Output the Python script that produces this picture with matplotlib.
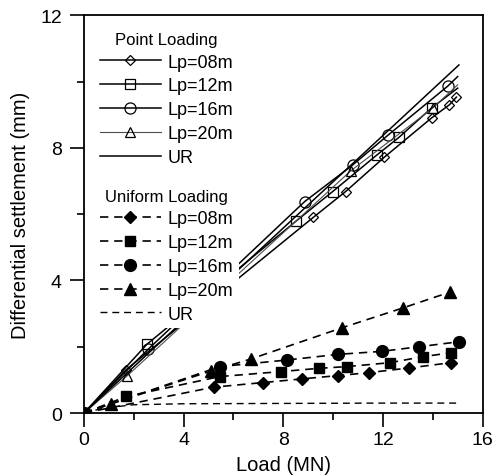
import matplotlib
matplotlib.use("Agg")
import matplotlib.pyplot as plt

plt.rcParams['font.family'] = ['Liberation Sans', 'DejaVu Sans']

# point loading (open markers, solid lines)
p08_x = [0, 1.68, 9.2, 10.5, 12.06, 13.95, 14.67, 14.95]
p08_y = [0, 1.30, 5.90, 6.68, 7.72, 8.90, 9.30, 9.53]
p12_x = [0, 2.52, 8.53, 9.98, 11.75, 12.65, 13.95, 15.0]
p12_y = [0, 2.07, 5.80, 6.68, 7.78, 8.32, 9.20, 9.80]
p16_x = [0, 2.57, 8.86, 10.78, 12.2, 14.6, 15.0]
p16_y = [0, 1.92, 6.38, 7.48, 8.38, 9.86, 10.15]
p20_x = [0, 1.73, 10.7, 14.0, 15.0]
p20_y = [0, 1.12, 7.30, 9.20, 9.90]
pur_x = [0, 15.05]
pur_y = [0, 10.5]

# uniform loading (filled markers, dashed lines)
u08_x = [0, 5.2, 7.2, 8.75, 10.2, 11.45, 13.05, 14.75]
u08_y = [0, 0.78, 0.92, 1.03, 1.13, 1.22, 1.36, 1.52]
u12_x = [0, 1.7, 5.45, 7.9, 9.45, 10.55, 12.3, 13.6, 14.75]
u12_y = [0, 0.50, 1.10, 1.25, 1.35, 1.40, 1.52, 1.70, 1.82]
u16_x = [0, 5.45, 8.15, 10.2, 11.95, 13.45, 15.05]
u16_y = [0, 1.40, 1.60, 1.77, 1.86, 2.00, 2.15]
u20_x = [0, 1.1, 5.1, 6.7, 10.35, 12.8, 14.7]
u20_y = [0, 0.28, 1.27, 1.63, 2.57, 3.17, 3.65]
uur_x = [0, 0.8, 2.0, 4.0, 8.0, 12.0, 15.0]
uur_y = [0, 0.15, 0.25, 0.28, 0.29, 0.30, 0.30]

labels = ['Lp=08m', 'Lp=12m', 'Lp=16m', 'Lp=20m', 'UR']

fig = plt.figure(figsize=(4.97, 4.77), dpi=100)
ax = fig.add_axes([0.169, 0.132, 0.802, 0.834])

lw = 1.1
solid = dict(color='black', lw=lw, mfc='none', mec='black', mew=0.9)
h1, = ax.plot(p08_x, p08_y, marker='D', ms=5, **solid)
h2, = ax.plot(p12_x, p12_y, marker='s', ms=7, markevery=list(range(len(p12_x) - 1)), **solid)
h3, = ax.plot(p16_x, p16_y, marker='o', ms=8, markevery=list(range(len(p16_x) - 1)), **solid)
h4, = ax.plot(p20_x, p20_y, marker='^', ms=7, markevery=list(range(len(p20_x) - 1)),
              color='0.3', lw=0.8, mfc='none', mec='black', mew=0.9)
h5, = ax.plot(pur_x, pur_y, color='black', lw=lw)

dash = dict(color='black', lw=1.2, ls=(0, (5, 3.5)), mfc='black', mec='black')
g1, = ax.plot(u08_x, u08_y, marker='D', ms=6.5, **dash)
g2, = ax.plot(u12_x, u12_y, marker='s', ms=7.5, **dash)
g3, = ax.plot(u16_x, u16_y, marker='o', ms=8.5, **dash)
g4, = ax.plot(u20_x, u20_y, marker='^', ms=8.5, **dash)
g5, = ax.plot(uur_x, uur_y, color='black', lw=1.0, ls=(0, (5, 3.5)))

ax.set_xlim(0, 16)
ax.set_ylim(0, 12)
ax.set_xticks([0, 4, 8, 12, 16])
ax.set_yticks([0, 4, 8, 12])
ax.set_xticks([2, 6, 10, 14], minor=True)
ax.set_yticks([2, 6, 10], minor=True)
ax.tick_params(which='major', direction='out', length=10, width=1.2, labelsize=14, pad=3)
ax.tick_params(which='minor', direction='out', length=5, width=1.2)
ax.tick_params(axis='y', which='major', pad=6)
for s in ax.spines.values():
    s.set_linewidth(1.3)

ax.set_xlabel('Load (MN)', fontsize=14.5, labelpad=5)
ax.set_ylabel('Differential settlement (mm)', fontsize=14.5, labelpad=7)

# two stacked legends with opaque white boxes that hide the lines behind them
leg_kw = dict(loc='upper left', frameon=True, facecolor='white', edgecolor='none',
              framealpha=1, fancybox=False, fontsize=13, title_fontsize=12,
              handlelength=3.4, handletextpad=0.35, labelspacing=0.38,
              borderpad=0.3, borderaxespad=0)
leg1 = ax.legend([h1, h2, h3, h4, h5], labels, title='Point Loading',
                 bbox_to_anchor=(0.026, 0.972), **leg_kw)
ax.add_artist(leg1)
leg2 = ax.legend([g1, g2, g3, g4, g5], labels, title='Uniform Loading',
                 bbox_to_anchor=(0.026, 0.578), **leg_kw)

fig.savefig('out.png', dpi=100)
